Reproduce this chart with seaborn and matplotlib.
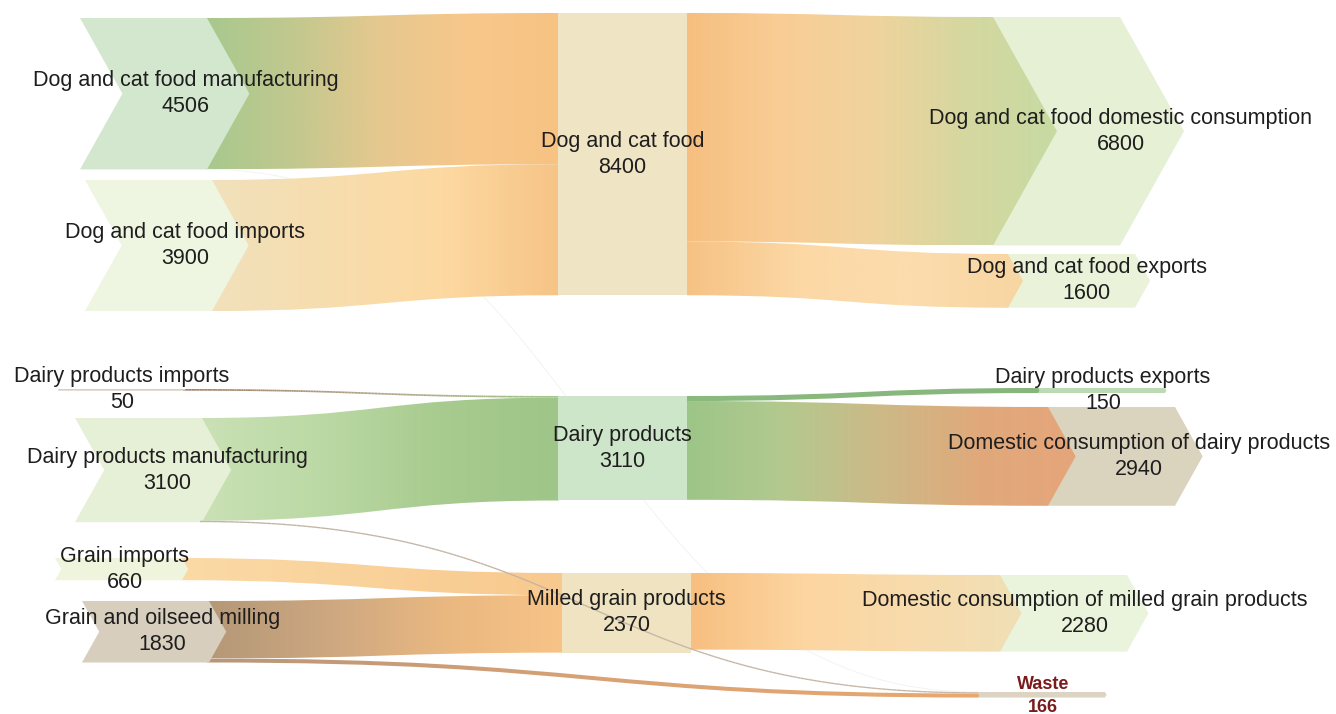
import numpy as np
import matplotlib
matplotlib.use("Agg")
import matplotlib.pyplot as plt
from matplotlib.path import Path
from matplotlib.patches import PathPatch, Polygon, Rectangle
from matplotlib.collections import LineCollection
import seaborn as sns

# ---------------- data ----------------
node_names = [
    "Dog and cat food manufacturing", "Dog and cat food imports",
    "Dairy products imports", "Dairy products manufacturing",
    "Grain imports", "Grain and oilseed milling",
    "Dog and cat food", "Dairy products", "Milled grain products",
    "Dog and cat food domestic consumption", "Dog and cat food exports",
    "Dairy products exports", "Domestic consumption of dairy products",
    "Domestic consumption of milled grain products", "Waste",
]
node_values = [4506, 3900, 50, 3100, 660, 1830, 8400, 3110, 2370,
               6800, 1600, 150, 2940, 2280, 166]

link_sources = [
    "Dog and cat food manufacturing", "Dog and cat food manufacturing",
    "Dog and cat food imports", "Dog and cat food", "Dog and cat food",
    "Dairy products imports", "Dairy products manufacturing",
    "Dairy products manufacturing", "Dairy products", "Dairy products",
    "Grain imports", "Grain and oilseed milling", "Grain and oilseed milling",
    "Milled grain products",
]
link_targets = [
    "Dog and cat food", "Waste", "Dog and cat food",
    "Dog and cat food domestic consumption", "Dog and cat food exports",
    "Dairy products", "Dairy products", "Waste",
    "Dairy products exports", "Domestic consumption of dairy products",
    "Milled grain products", "Milled grain products", "Waste",
    "Domestic consumption of milled grain products",
]
link_values = [4500, 6, 3900, 6800, 1600, 50, 3060, 40, 150, 2940,
               660, 1710, 120, 2280]

# ---------------- layout & style ----------------
PX_PER_UNIT = 0.0336      # vertical pixels per unit of flow
CHEV_W = 127              # chevron body width
TIP = 0.28                # arrow depth relative to node height
MID_W = 129               # width of the middle nodes

# col: 0 = source chevron, 1 = middle node, 2 = destination chevron
layout = {
    "Dog and cat food manufacturing": (0, 80, 18),
    "Dog and cat food imports": (0, 85, 180),
    "Dairy products imports": (0, 58, 389),
    "Dairy products manufacturing": (0, 75, 418),
    "Grain imports": (0, 55, 558),
    "Grain and oilseed milling": (0, 82, 601),
    "Dog and cat food": (1, 558, 13),
    "Dairy products": (1, 558, 396),
    "Milled grain products": (1, 562, 573),
    "Dog and cat food domestic consumption": (2, 993, 17),
    "Dog and cat food exports": (2, 1008, 254),
    "Dairy products exports": (2, 1038, 388),
    "Domestic consumption of dairy products": (2, 1048, 407),
    "Domestic consumption of milled grain products": (2, 1000, 575),
    "Waste": (2, 978, 692),
}

node_colors = {
    "Dog and cat food manufacturing": "#d2e7cd",
    "Dog and cat food imports": "#eef5e0",
    "Dairy products imports": "#d8cfc2",
    "Dairy products manufacturing": "#e6f0d7",
    "Grain imports": "#eef5dc",
    "Grain and oilseed milling": "#d7cebd",
    "Dog and cat food": "#efe4c4",
    "Dairy products": "#cde5c8",
    "Milled grain products": "#efe3c1",
    "Dog and cat food domestic consumption": "#e5f0d5",
    "Dog and cat food exports": "#eaf3da",
    "Dairy products exports": "#bcdab3",
    "Domestic consumption of dairy products": "#dad3bd",
    "Domestic consumption of milled grain products": "#eaf3db",
    "Waste": "#ddd3c2",
}

link_colors = [
    ["#a7c98e", "#c2c88e", "#e6c88f", "#f8c78a", "#f7c383"],
    ["#f4f1ec", "#f4f1ec"],
    ["#f1e1bc", "#f7ddae", "#fdd9a1", "#f6c487"],
    ["#f6bf80", "#f9cd95", "#f0d39d", "#d6d7a0", "#c6dba3"],
    ["#f6c284", "#fcd8a5", "#fcdcad", "#f8d6a2"],
    ["#a08064", "#b0a084", "#9cc487"],
    ["#cae1b5", "#bbd9a5", "#a8cb8f", "#9fc588"],
    ["#c2b3a4", "#c8b6a5"],
    ["#8bba7f", "#86b67c"],
    ["#9dc588", "#b3c98f", "#cdb987", "#e0a97b", "#e6a57a"],
    ["#fbdaa6", "#f8c98e"],
    ["#b49877", "#cca780", "#e9b880", "#f8c387"],
    ["#b8977a", "#d8a275", "#eaa86e"],
    ["#f7bf80", "#fdd5a0", "#f8dbad", "#f0dfb5"],
]
link_z = [0.8, 0.8, 1, 1, 1, 1, 1, 3, 1, 1, 1, 1, 1, 1]

# ---------------- figure ----------------
sns.set_theme(style="white")
plt.rcParams["font.family"] = ["Liberation Sans", "DejaVu Sans"]

fig = plt.figure(figsize=(13.36, 7.14), dpi=100)
ax = fig.add_axes([0, 0, 1, 1])

value_of = dict(zip(node_names, node_values))
height = {n: v * PX_PER_UNIT for n, v in value_of.items()}
out_off = {n: 0.0 for n in node_names}
in_off = {n: 0.0 for n in node_names}


def right_edge(name):
    col, x0, _ = layout[name]
    return x0 + (CHEV_W if col == 0 else MID_W)


def draw_band(xa, ya0, ya1, xb, yb0, yb1, tip_d, cmap, z):
    xm = (xa + xb) / 2
    verts = [(xa, ya0), (xm, ya0), (xm, yb0), (xb, yb0)]
    codes = [Path.MOVETO, Path.CURVE4, Path.CURVE4, Path.CURVE4]
    if tip_d > 0:
        verts.append((xb + tip_d, (yb0 + yb1) / 2))
        codes.append(Path.LINETO)
    verts += [(xb, yb1), (xm, yb1), (xm, ya1), (xa, ya1), (xa, ya0)]
    codes += [Path.LINETO, Path.CURVE4, Path.CURVE4, Path.CURVE4, Path.CLOSEPOLY]
    patch = PathPatch(Path(verts, codes), fc="none", ec="none")
    ax.add_patch(patch)
    grad = np.linspace(0, 1, 512)[None, :]
    im = ax.imshow(grad, cmap=cmap, extent=[xa, xb + tip_d, max(ya1, yb1), min(ya0, yb0)],
                   aspect="auto", interpolation="bilinear", zorder=z)
    im.set_clip_path(patch)


def draw_thin(xa, ya, xb, yb, width_px, cmap, z):
    t = np.linspace(0, 1, 200)
    xm = (xa + xb) / 2
    x = (1 - t) ** 3 * xa + 3 * (1 - t) ** 2 * t * xm + 3 * (1 - t) * t ** 2 * xm + t ** 3 * xb
    y = (1 - t) ** 3 * ya + 3 * (1 - t) ** 2 * t * ya + 3 * (1 - t) * t ** 2 * yb + t ** 3 * yb
    pts = np.column_stack([x, y]).reshape(-1, 1, 2)
    segs = np.concatenate([pts[:-1], pts[1:]], axis=1)
    cols = cmap((x[:-1] - xa) / (xb - xa))
    lc = LineCollection(segs, colors=cols, linewidths=max(width_px, 0.8) * 0.72,
                        capstyle="butt", zorder=z)
    ax.add_collection(lc)


# links
for src, tgt, val, cols, z in zip(link_sources, link_targets, link_values, link_colors, link_z):
    h = val * PX_PER_UNIT
    scol, sx0, stop = layout[src]
    tcol, tx0, ttop = layout[tgt]
    ya0 = stop + out_off[src]
    yb0 = ttop + in_off[tgt]
    out_off[src] += h
    in_off[tgt] += h
    xa = right_edge(src) - (2 if scol == 0 else 0)
    xb = tx0 + (1 if tcol == 1 else 0)
    tip_d = TIP * h if tcol == 2 else 0
    cmap = sns.blend_palette(cols, as_cmap=True)
    if h < 2.5:
        draw_thin(xa, ya0 + h / 2, xb, yb0 + h / 2, h, cmap, z)
    else:
        draw_band(xa, ya0, ya0 + h, xb, yb0, yb0 + h, tip_d, cmap, z)

# nodes
for name in node_names:
    col, x0, top = layout[name]
    h = height[name]
    d = TIP * h
    mid = top + h / 2
    c = node_colors[name]
    if col == 1:
        ax.add_patch(Rectangle((x0, top), MID_W, h, fc=c, ec="none", zorder=2))
        lx = x0 + MID_W / 2
    elif col == 0:
        pts = [(x0, top), (x0 + CHEV_W, top), (x0 + CHEV_W + d, mid),
               (x0 + CHEV_W, top + h), (x0, top + h), (x0 + d, mid)]
        ax.add_patch(Polygon(pts, closed=True, fc=c, ec="none", zorder=2))
        lx = x0 + d + CHEV_W / 2
    else:
        pts = [(x0, top), (x0 + CHEV_W, top), (x0 + CHEV_W + d, mid),
               (x0 + CHEV_W, top + h), (x0, top + h)]
        ax.add_patch(Polygon(pts, closed=True, fc=c, ec="none", zorder=0.5))
        lx = x0 + d + CHEV_W / 2
    if name == "Waste":
        kw = dict(fontsize=13, fontweight="bold", color="#7a1c1c")
        ax.text(lx, mid - 10, name, ha="center", va="center", zorder=5, **kw)
        ax.text(lx, mid + 13, f"{value_of[name]}", ha="center", va="center", zorder=5, **kw)
    else:
        kw = dict(fontsize=15.5, color="#1e1e1e")
        ax.text(lx, mid - 13, name, ha="center", va="center", zorder=5, **kw)
        ax.text(lx, mid + 13, f"{value_of[name]}", ha="center", va="center", zorder=5, **kw)

ax.set_xlim(0, 1336)
ax.set_ylim(714, 0)
ax.set_axis_off()
fig.savefig("out.png", dpi=100, facecolor="white")
